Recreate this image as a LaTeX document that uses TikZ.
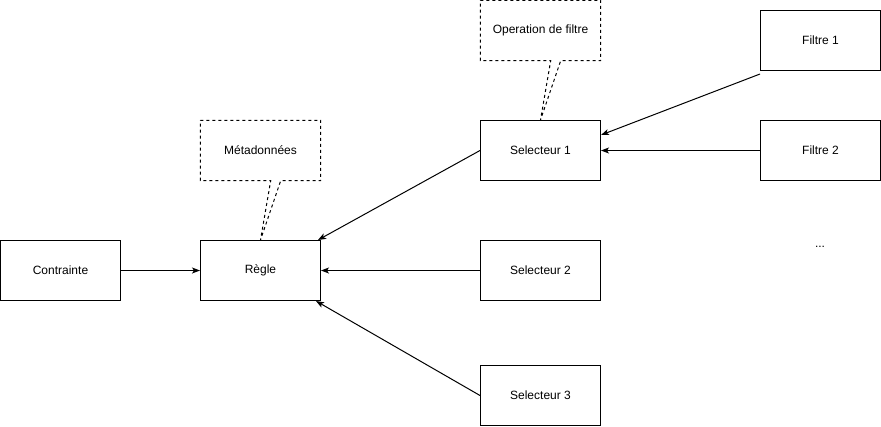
\documentclass[tikz,border=0pt]{standalone}
\usepackage{fontspec}
\setmainfont{Liberation Sans}
\usetikzlibrary{arrows.meta}

\tikzset{
  box/.style={draw, line width=1pt, minimum width=120pt, minimum height=60pt,
    inner sep=0pt, font=\fontsize{12}{14}\selectfont},
  notebox/.style={minimum width=120pt, minimum height=60pt, inner sep=0pt,
    font=\fontsize{12}{14}\selectfont},
  notetail/.style={line width=1pt, dash pattern=on 3pt off 3pt},
  link/.style={line width=1pt, -{Stealth[length=8pt,width=6pt,inset=2pt]}}
}

\begin{document}
\begin{tikzpicture}[x=1pt, y=-1pt]
  \useasboundingbox (0,0) rectangle (881,426);

  % main chain
  \node[box] (contrainte) at (60.5,270.5) {Contrainte};
  \node[box] (regle) at (260.5,270.5) {Règle};

  % selectors
  \node[box] (selA) at (540.5,150.5) {Selecteur 1};
  \node[box] (selB) at (540.5,270.5) {Selecteur 2};
  \node[box] (selC) at (540.5,395.5) {Selecteur 3};

  % filters
  \node[box] (filtreA) at (820.5,40.5) {Filtre 1};
  \node[box] (filtreB) at (820.5,150.5) {Filtre 2};
  \node[font=\fontsize{12}{14}\selectfont] (etc) at (820,247) {...};

  % notes, tail pointing at the node they describe
  \node[notebox] (meta) at (260.5,150.5) {Métadonnées};
  \draw[notetail] (meta.north west) -- (meta.north east) -- (meta.south east)
    -- ([xshift=-40pt]meta.south east) -- (regle.north)
    -- ([xshift=-50pt]meta.south east) -- (meta.south west) -- cycle;
  \node[notebox] (opfiltre) at (540.5,30.5) {Operation de filtre};
  \draw[notetail] (opfiltre.north west) -- (opfiltre.north east) -- (opfiltre.south east)
    -- ([xshift=-40pt]opfiltre.south east) -- (selA.north)
    -- ([xshift=-50pt]opfiltre.south east) -- (opfiltre.south west) -- cycle;

  % connectors
  \draw[link] (contrainte) -- (regle);
  \draw[link] (selA.west) -- ([xshift=-3pt]regle.north east);
  \draw[link] (selB) -- (regle);
  \draw[link] (selC.west) -- ([xshift=-5pt]regle.south east);
  \draw[link] ([yshift=-3pt]filtreA.south west) -- ([yshift=-15pt]selA.north east);
  \draw[link] (filtreB) -- (selA);

\end{tikzpicture}
\end{document}
